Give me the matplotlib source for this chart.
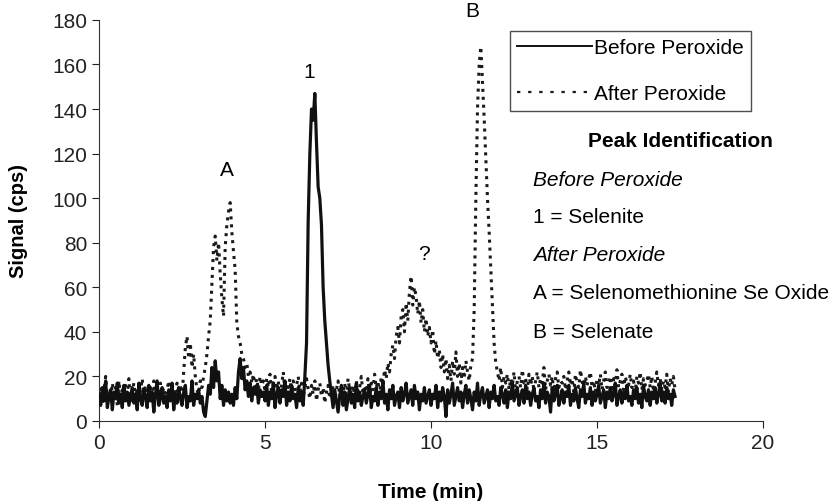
import matplotlib
matplotlib.use("Agg")
import matplotlib.pyplot as plt
import numpy as np

plt.rcParams['font.family'] = ['Liberation Sans', 'DejaVu Sans']

# sampling of the chromatogram (min)
t_step = 0.05

# Before peroxide (cps), one row per minute, 20 samples each
before = [
    12, 7, 15, 9, 18, 6, 11, 14, 5, 13, 10, 17, 8, 12, 6, 16, 9, 13, 7, 11,
    15, 8, 12, 5, 17, 10, 7, 14, 11, 6, 16, 9, 13, 4, 12, 18, 7, 10, 15, 8,
    11, 6, 14, 9, 17, 5, 12, 8, 15, 10, 7, 13, 16, 6, 11, 9, 18, 7, 12, 10,
    14, 8, 11, 4, 2, 9, 16, 12, 24, 15, 27, 18, 22, 10, 16, 7, 14, 9, 13, 8,
    12, 7, 15, 10, 22, 28, 19, 24, 14, 18, 11, 17, 9, 15, 12, 16, 8, 14, 11, 13,
    9, 16, 7, 13, 10, 17, 6, 12, 15, 8, 14, 11, 18, 7, 13, 9, 16, 10, 12, 6,
    15, 9, 13, 7, 20, 35, 90, 120, 140, 135, 147, 125, 105, 100, 88, 60, 45, 35, 25, 18,
    12, 6, 14, 9, 4, 11, 16, 7, 13, 5, 10, 15, 8, 12, 6, 17, 9, 13, 7, 11,
    14, 8, 12, 16, 6, 11, 9, 15, 7, 13, 10, 18, 8, 12, 5, 14, 10, 16, 7, 11,
    13, 6, 15, 9, 12, 17, 8, 11, 14, 7, 16, 10, 13, 5, 12, 9, 15, 8, 11, 14,
    7, 12, 10, 16, 6, 13, 9, 15, 11, 2, 14, 8, 12, 17, 7, 11, 15, 9, 13, 6,
    12, 16, 8, 14, 10, 5, 13, 9, 17, 7, 12, 15, 8, 11, 14, 6, 13, 10, 16, 9,
    11, 7, 15, 12, 8, 14, 6, 13, 10, 17, 9, 12, 15, 7, 11, 14, 8, 16, 10, 13,
    7, 12, 15, 9, 11, 6, 14, 10, 17, 8, 13, 11, 4, 15, 9, 12, 16, 7, 10, 14,
    8, 13, 11, 16, 7, 12, 9, 15, 10, 6, 14, 11, 17, 8, 12, 10, 15, 7, 13, 9,
    12, 16, 8, 11, 14, 6, 13, 10, 15, 9, 12, 17, 7, 11, 14, 8, 13, 10, 16, 9,
    11, 7, 14, 10, 15, 8, 12, 6, 16, 11, 9, 14, 7, 13, 10, 15, 8, 12, 17, 9,
    13, 8, 15, 10, 12, 7, 14, 11,
]

# After peroxide (cps)
after = [
    10, 16, 8, 14, 20, 11, 13, 9, 17, 12, 15, 7, 18, 11, 14, 10, 16, 12, 19, 9,
    13, 17, 10, 15, 8, 14, 19, 11, 16, 12, 9, 15, 13, 18, 10, 14, 11, 17, 12, 15,
    9, 14, 18, 11, 15, 10, 13, 17, 12, 16, 11, 22, 33, 38, 28, 35, 24, 30, 20, 14,
    12, 18, 15, 20, 24, 30, 38, 45, 62, 78, 83, 72, 80, 66, 55, 47, 78, 88, 94, 98,
    85, 76, 68, 44, 38, 35, 30, 28, 24, 26, 20, 22, 17, 21, 15, 19, 14, 20, 16, 18,
    13, 19, 15, 21, 12, 17, 20, 14, 18, 11, 16, 22, 13, 17, 15, 19, 12, 18, 14, 16,
    20, 13, 17, 11, 15, 19, 14, 10, 16, 12, 18, 9, 14, 17, 11, 15, 8, 13, 16, 10,
    12, 16, 9, 14, 18, 11, 15, 13, 17, 10, 19, 14, 12, 16, 11, 18, 13, 15, 20, 12,
    16, 13, 19, 11, 17, 14, 21, 15, 18, 12, 20, 16, 23, 19, 26, 22, 30, 34, 28, 38,
    42, 35, 47, 50, 40, 53, 45, 58, 65, 52, 60, 56, 48, 54, 44, 50, 40, 46, 38, 42,
    35, 41, 30, 36, 28, 32, 24, 30, 22, 28, 19, 25, 18, 27, 21, 31, 20, 26, 17, 24,
    19, 27, 22, 18, 25, 28, 50, 100, 140, 160, 168, 152, 136, 118, 100, 85, 68, 50, 35, 26,
    22, 18, 24, 15, 20, 17, 21, 14, 19, 16, 22, 13, 18, 20, 15, 23, 17, 19, 14, 21,
    16, 20, 13, 18, 22, 15, 19, 17, 24, 14, 18, 21, 16, 20, 13, 19, 22, 15, 18, 17,
    20, 14, 18, 22, 16, 19, 13, 21, 17, 15, 23, 18, 14, 20, 16, 19, 22, 15, 18, 13,
    19, 16, 21, 14, 18, 22, 15, 17, 20, 13, 19, 16, 23, 15, 18, 21, 14, 20, 17, 16,
    21, 15, 18, 13, 20, 17, 22, 14, 19, 16, 18, 21, 15, 20, 13, 17, 22, 16, 19, 14,
    18, 15, 21, 13, 19, 16, 20, 14,
]

peak_labels = ['A', '1', '?', 'B']
peak_pos = [(3.86, 113), (6.33, 157), (9.79, 75), (11.23, 184)]

id_lines = [('Peak Identification', 'bold', 'normal'),
            ('Before Peroxide', 'normal', 'italic'),
            ('1 = Selenite', 'normal', 'normal'),
            ('After Peroxide', 'normal', 'italic'),
            ('A = Selenomethionine Se Oxide', 'normal', 'normal'),
            ('B = Selenate', 'normal', 'normal')]

FS = 15

t_before = np.arange(len(before)) * t_step
t_after = np.arange(len(after)) * t_step

fig = plt.figure(figsize=(8.35, 5.02), dpi=100)
ax = fig.add_axes([0.1186, 0.1594, 0.7952, 0.799])

ax.plot(t_after, after, color='#1a1a1a', lw=2.2, linestyle=(0, (1, 1.6)),
        label='After Peroxide', zorder=2)
ax.plot(t_before, before, color='#111111', lw=2.3, label='Before Peroxide', zorder=3)

ax.set_xlim(0, 20)
ax.set_ylim(0, 180)
ax.set_xticks(np.arange(0, 21, 5))
ax.set_yticks(np.arange(0, 181, 20))
for s in ['top', 'right']:
    ax.spines[s].set_visible(False)
for s in ['left', 'bottom']:
    ax.spines[s].set_color('#333333')
ax.tick_params(direction='out', length=5, labelsize=FS, colors='#222222')
ax.set_xlabel('Time (min)', fontsize=FS, fontweight='bold', labelpad=22)
ax.set_ylabel('Signal (cps)', fontsize=14.5, fontweight='bold', labelpad=17)

for lab, (x, y) in zip(peak_labels, peak_pos):
    ax.text(x, y, lab, ha='center', va='center', fontsize=FS)

handles, labels = ax.get_legend_handles_labels()
leg = ax.legend(handles[::-1], labels[::-1], loc='upper left',
                bbox_to_anchor=(0.619, 0.9726), borderaxespad=0,
                fancybox=False, edgecolor='#222222', fontsize=FS,
                handlelength=3.6, handletextpad=0.1, labelspacing=1.3,
                borderpad=0.35)
leg.get_frame().set_linewidth(1.0)
leg_lines = leg.get_lines()
leg_lines[0].set_linewidth(1.4)
leg_lines[1].set_linewidth(1.6)
leg_lines[1].set_linestyle((0, (1.5, 3.5)))

y_px = [142, 181, 218, 256, 294, 333]
for (txt, fw, fs), yp in zip(id_lines, y_px):
    yf = (422 - yp) / 401
    if fw == 'bold':
        ax.text((680 - 99) / 664, yf, txt, transform=ax.transAxes, ha='center',
                va='center', fontsize=FS, fontweight='bold')
    else:
        ax.text((533 - 99) / 664, yf, txt, transform=ax.transAxes, ha='left',
                va='center', fontsize=FS, style=fs)

fig.savefig('out.png', dpi=100)
